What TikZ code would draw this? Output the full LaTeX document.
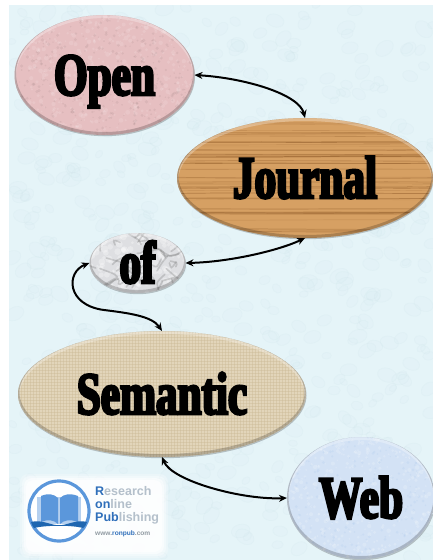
\documentclass[tikz,border=0pt]{standalone}
\usepackage{fontspec}
\usetikzlibrary{shapes.geometric,arrows.meta}
\setmainfont{Liberation Serif}
\setsansfont{Liberation Sans}
\newfontfamily\poster[BoldFeatures={FakeStretch=.72,FakeBold=4.2}]{Liberation Serif}
\definecolor{bgblue}{HTML}{E5F4F8}
\definecolor{dropblue}{HTML}{CFE5EC}
\definecolor{pinkbase}{HTML}{E6BFC1}
\definecolor{woodbase}{HTML}{D6A063}
\definecolor{woodline}{HTML}{8F5A28}
\definecolor{marblebase}{HTML}{DEDFE2}
\definecolor{linenbase}{HTML}{E2D5BA}
\definecolor{linenline}{HTML}{C9B994}
\definecolor{webbase}{HTML}{D3E2F5}
\definecolor{logoblue}{HTML}{5B97DB}
\definecolor{logodark}{HTML}{1F66B0}
\definecolor{logogrey}{HTML}{B4C0CB}
\definecolor{logotext}{HTML}{2F6FBA}
\newcommand\wordbox[1]{\raisebox{-20pt}[0pt][0pt]{\poster\bfseries\fontsize{60pt}{60pt}\selectfont #1}}
% random specks inside a box: cx cy rx ry count colour size opacity
\newcommand\mottle[8]{%
  \foreach \i in {1,...,#5}{%
    \pgfmathsetmacro\mx{#1+rand*#3}%
    \pgfmathsetmacro\my{#2+rand*#4}%
    \pgfmathsetmacro\ms{#7*(0.5+rnd)}%
    \fill[#6,opacity=#8] (\mx,\my) circle[radius=\ms pt];
  }}
% textured bevelled ellipse: cx cy rx ry base-colour texture
\newcommand\plate[6]{%
  \fill[black,opacity=.22] (#1+.5,#2+1.2) ellipse[x radius=#3pt,y radius=#4pt];
  \fill[#5] (#1,#2) ellipse[x radius=#3pt,y radius=#4pt];
  \begin{scope}
    \clip (#1,#2) ellipse[x radius=#3pt,y radius=#4pt];
    #6
    \draw[white,opacity=.28,line width=3pt] (#1,#2+1.5) ellipse[x radius=#3pt,y radius=#4pt];
    \draw[black,opacity=.20,line width=3pt] (#1,#2-1.5) ellipse[x radius=#3pt,y radius=#4pt];
  \end{scope}}
\tikzset{
  word/.style={ellipse,inner sep=0pt,outer sep=0pt,text=black,align=center},
  conn/.style={draw=black,line width=2pt,{Stealth[length=8pt,width=7pt]}-{Stealth[length=8pt,width=7pt]}},
  logoword/.style={anchor=base west,inner sep=0pt,font=\sffamily\bfseries\fontsize{12.5pt}{13pt}\selectfont,text=logogrey}
}
\begin{document}
\begin{tikzpicture}[x=1pt,y=-1pt]
\useasboundingbox (0,0) rectangle (433,560);
\fill[white] (0,0) rectangle (433,560);
\fill[bgblue] (9,5) rectangle (433,560);
\pgfmathsetseed{42}
\begin{scope}
  \clip (9,5) rectangle (433,560);
  \foreach \i in {1,...,700}{
    \pgfmathsetmacro\dx{221+rand*212}
    \pgfmathsetmacro\dy{282+rand*278}
    \pgfmathsetmacro\dr{4+rnd*6}
    \pgfmathsetmacro\da{rand*50}
    \draw[dropblue,opacity=.20,line width=.6pt,fill=dropblue,fill opacity=.07,rotate around={\da:(\dx,\dy)}] (\dx,\dy) ellipse[x radius=\dr pt,y radius=.7*\dr pt];
  }
\end{scope}
% logo glow
\foreach \g/\o in {0/.25,2/.35,4/.5,6/.7}{
  \fill[white,opacity=\o,rounded corners=8pt] (20+\g,474+\g) rectangle (168-\g,558-\g);
}
% plates
\plate{104.5}{75}{90}{60}{pinkbase}{\mottle{104.5}{75}{90}{60}{500}{white}{1.6}{.12}\mottle{104.5}{75}{90}{60}{500}{black!50!pinkbase}{1.2}{.10}}
\plate{305}{178}{128}{60}{woodbase}{%
  \foreach \i in {1,...,50}{
    \pgfmathsetmacro\wy{118+rnd*120}
    \pgfmathsetmacro\wa{1.5*rand}
    \pgfmathsetmacro\wb{1.5*rand}
    \pgfmathsetmacro\wo{.15+.4*rnd}
    \pgfmathsetmacro\ww{.3+.7*rnd}
    \draw[woodline,opacity=\wo,line width=\ww pt] (177,\wy) .. controls (250,\wy+\wa) and (360,\wy+\wb) .. (433,\wy);
  }}
\plate{137.5}{263}{48}{30}{marblebase}{%
  \mottle{137.5}{263}{48}{30}{120}{white}{2.5}{.3}
  \foreach \i in {1,...,40}{
    \pgfmathsetmacro\mxa{137.5+rand*48}
    \pgfmathsetmacro\mya{263+rand*30}
    \pgfmathsetmacro\mxb{\mxa+rand*18}
    \pgfmathsetmacro\myb{\mya+rand*14}
    \pgfmathsetmacro\mxc{\mxb+rand*10}
    \pgfmathsetmacro\myc{\myb+rand*10}
    \draw[black!60,opacity=.25,line width=1.6pt,line cap=round] (\mxa,\mya) .. controls (\mxb,\myb) .. (\mxc,\myc);
  }}
\plate{162}{394}{144}{63}{linenbase}{%
  \foreach \k in {18,21,...,306}{\draw[linenline,opacity=.40,line width=.6pt] (\k,330) -- (\k,458);}
  \foreach \k in {331,334,...,457}{\draw[linenline,opacity=.40,line width=.6pt] (18,\k) -- (306,\k);}
}
\plate{361}{498}{74}{61}{webbase}{\mottle{361}{498}{74}{61}{500}{white}{1.5}{.18}\mottle{361}{498}{74}{61}{250}{logoblue}{1.1}{.07}}
% word nodes
\node[word,minimum width=180pt,minimum height=120pt] (open) at (104.5,75) {\wordbox{Open}};
\node[word,minimum width=256pt,minimum height=120pt] (journal) at (305,178) {\wordbox{Journal}};
\node[word,minimum width=96pt,minimum height=60pt] (of) at (137.5,263) {\wordbox{of}};
\node[word,minimum width=288pt,minimum height=126pt] (semantic) at (162,394) {\wordbox{Semantic}};
\node[word,minimum width=148pt,minimum height=122pt] (web) at (361,498) {\wordbox{Web}};
% connectors
\coordinate (ofbend) at (104,310);
\draw[conn] (open.east) .. controls +(50,3) and +(-6,-24) .. (journal.north);
\draw[conn] (of.east) .. controls +(45,-1) and +(-25,12) .. (journal.south);
\draw[conn] (of.west) .. controls (66,272) and (66,305) .. (ofbend) .. controls (128,313) and (152,316) .. (semantic.north);
\draw[conn] (semantic.south) .. controls +(10,24) and +(-45,2) .. (web.west);
% logo
\node[circle,draw=logoblue,line width=3.2pt,fill=white,minimum size=60pt,inner sep=0pt] (logoring) at (59,511) {};
\fill[logoblue!45!white] (37,497) -- (37,524) -- (81,524) -- (81,497) -- cycle;
\fill[logoblue] (41,496) .. controls (48,493) and (54,494) .. (58,498) -- (58,524) .. controls (54,520) and (48,519) .. (41,522) -- cycle;
\fill[logoblue] (60,498) .. controls (64,494) and (70,493) .. (78,496) -- (78,522) .. controls (70,519) and (64,520) .. (60,524) -- cycle;
\fill[logodark] (31,522) .. controls (42,519) and (52,526) .. (59,525) .. controls (66,526) and (76,519) .. (87,522) .. controls (86,525) and (85,527) .. (83,528) .. controls (72,525) and (46,525) .. (34,528) .. controls (33,527) and (32,525) .. (31,522) -- cycle;
\node[logoword] (research) at (95,495) {\textcolor{logotext}{R}esearch};
\node[logoword] (online) at (95,508) {\textcolor{logotext}{on}line};
\node[logoword] (publishing) at (95,521) {\textcolor{logotext}{Pub}lishing};
\node[logoword,font=\sffamily\bfseries\fontsize{6.6pt}{7pt}\selectfont,text=logogrey!80!black] (url) at (95,535) {www.\textcolor{logotext}{ronpub}.com};
\end{tikzpicture}
\end{document}
